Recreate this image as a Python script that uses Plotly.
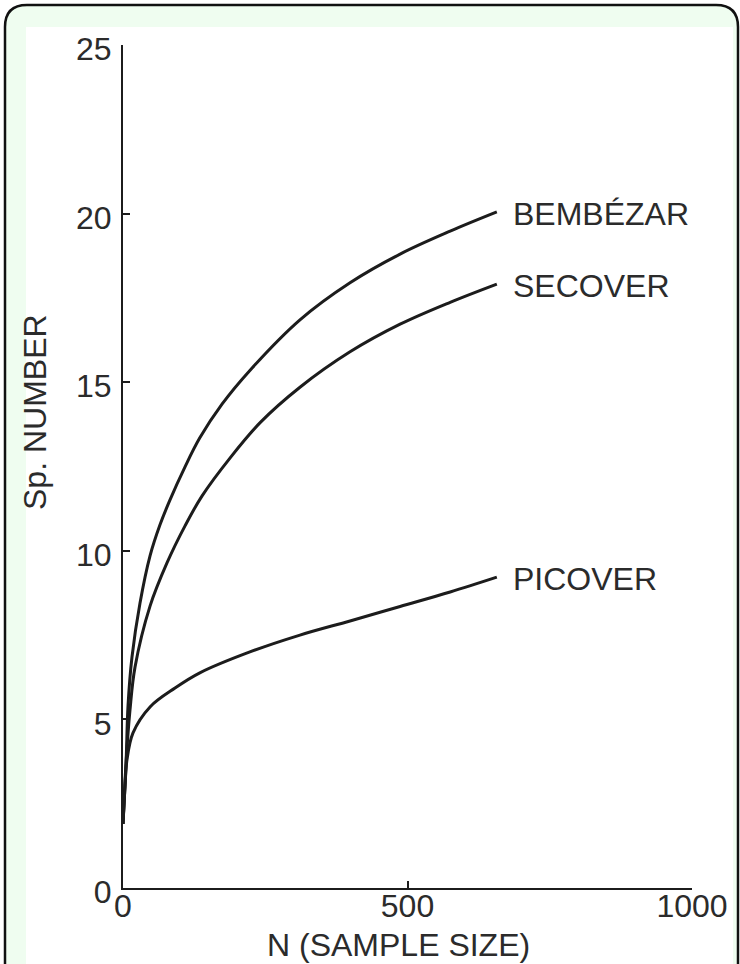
import plotly.graph_objects as go

# ---- data ----
n_bembezar = [0, 5.3, 8.8, 15.8, 29.9, 47.5, 65, 82.6, 109, 135, 174, 223, 311, 399, 487, 575, 657]
bembezar = [1.9, 3.66, 5.4, 6.85, 8.45, 9.85, 10.77, 11.51, 12.49, 13.35, 14.35, 15.35, 16.85, 17.95, 18.8, 19.48, 20.05]
n_secover = [0, 5.3, 12.3, 21.1, 47.5, 77.3, 109, 139, 188, 241, 311, 399, 487, 575, 657]
secover = [1.9, 3.7, 5.28, 6.55, 8.36, 9.64, 10.74, 11.63, 12.75, 13.8, 14.85, 15.9, 16.72, 17.37, 17.91]
n_picover = [0, 3.5, 7.0, 17.6, 47.5, 91.4, 135, 223, 311, 399, 487, 575, 657]
picover = [1.9, 3.0, 3.8, 4.6, 5.37, 5.93, 6.38, 7.0, 7.5, 7.92, 8.35, 8.78, 9.22]
series_names = ["BEMBÉZAR", "SECOVER", "PICOVER"]
x_ticks = [0, 500, 1000]
y_ticks = [0, 5, 10, 15, 20, 25]

W, H = 740, 964
L, R, T, B = 123, 692, 45, 888
FONT = "Liberation Sans, Arial, sans-serif"
TXT = "#2b2b2b"
INK = "#1c1c1c"


def px2x(px):
    return (px - L) / (R - L)


def py2y(py):
    return (B - py) / (B - T)


fig = go.Figure()
for name, xs, vals in zip(series_names, [n_bembezar, n_secover, n_picover],
                          [bembezar, secover, picover]):
    fig.add_trace(go.Scatter(x=xs, y=vals, mode="lines", name=name,
                             line=dict(color=INK, width=3, shape="spline", smoothing=1.0),
                             showlegend=False, hoverinfo="skip"))
    fig.add_annotation(x=xs[-1], y=vals[-1], xref="x", yref="y",
                       text=name, showarrow=False, xanchor="left", yanchor="middle",
                       xshift=14, yshift=-2, font=dict(family=FONT, size=32, color=TXT))

# frame shapes
r = 22
x0, y0, x1, y1 = 5, 5, 738, 990
path = (f"M {px2x(x0)} {py2y(y1)} L {px2x(x0)} {py2y(y0 + r)} "
        f"Q {px2x(x0)} {py2y(y0)} {px2x(x0 + r)} {py2y(y0)} "
        f"L {px2x(x1 - r)} {py2y(y0)} Q {px2x(x1)} {py2y(y0)} {px2x(x1)} {py2y(y0 + r)} "
        f"L {px2x(x1)} {py2y(y1)} Z")
shapes = [
    dict(type="path", xref="paper", yref="paper", path=path, layer="below",
         fillcolor="#effdf0", line=dict(color="#111111", width=2.5)),
    dict(type="rect", xref="paper", yref="paper", layer="below",
         x0=px2x(26), x1=px2x(733), y0=py2y(990), y1=py2y(27),
         fillcolor="white", line=dict(width=0)),
]

fig.add_annotation(text="Sp. NUMBER", xref="paper", yref="paper",
                   x=px2x(35), y=py2y(412), textangle=-90, showarrow=False,
                   xanchor="center", yanchor="middle",
                   font=dict(family=FONT, size=32, color=TXT))
fig.add_annotation(text="N (SAMPLE SIZE)", xref="paper", yref="paper",
                   x=px2x(398), y=py2y(945), showarrow=False,
                   xanchor="center", yanchor="middle",
                   font=dict(family=FONT, size=32, color=TXT))

axis_common = dict(showgrid=False, zeroline=False, showline=True, linecolor=INK,
                   linewidth=2, ticks="inside", ticklen=7, tickwidth=2, tickcolor=INK,
                   tickfont=dict(family=FONT, size=32, color=TXT), fixedrange=True)

fig.update_layout(
    width=W, height=H,
    margin=dict(l=L, r=W - R, t=T, b=H - B, pad=0),
    paper_bgcolor="white", plot_bgcolor="rgba(0,0,0,0)",
    shapes=shapes,
    xaxis=dict(range=[0, 1000], tickvals=x_ticks, ticktext=[str(v) for v in x_ticks],
               ticklabelshift=0, ticklabelstandoff=-11, **axis_common),
    yaxis=dict(range=[0, 25], tickvals=y_ticks, ticktext=[str(v) for v in y_ticks],
               ticklabelshift=4, ticklabelstandoff=3, **axis_common),
)

fig.write_html("out.html", config={"displayModeBar": False},
               post_script="document.body.style.margin='0px';")
